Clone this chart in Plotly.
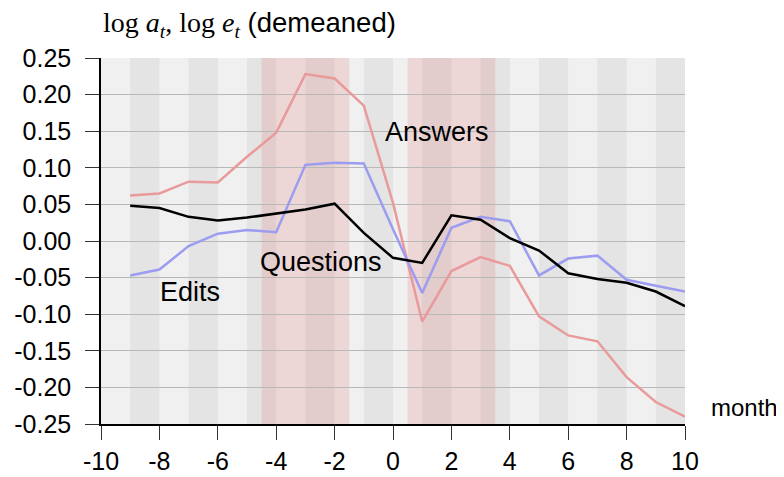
import plotly.graph_objects as go

months = list(range(-9, 11))
answers = [0.062, 0.065, 0.081, 0.080, 0.115, 0.148, 0.228, 0.222, 0.185, 0.052,
           -0.110, -0.041, -0.022, -0.034, -0.103, -0.129, -0.137, -0.186, -0.220, -0.240]
edits = [-0.047, -0.039, -0.007, 0.010, 0.015, 0.012, 0.104, 0.107, 0.106, 0.016,
         -0.071, 0.018, 0.033, 0.027, -0.047, -0.024, -0.020, -0.053, -0.061, -0.069]
questions = [0.048, 0.045, 0.033, 0.028, 0.032, 0.037, 0.043, 0.051, 0.011, -0.023,
             -0.030, 0.035, 0.029, 0.004, -0.013, -0.044, -0.052, -0.057, -0.069, -0.089]

x_tick_vals = [-10, -8, -6, -4, -2, 0, 2, 4, 6, 8, 10]
x_tick_labels = ["-10", "-8", "-6", "-4", "-2", "0", "2", "4", "6", "8", "10"]
y_tick_vals = [0.25, 0.20, 0.15, 0.10, 0.05, 0.0, -0.05, -0.10, -0.15, -0.20, -0.25]
y_tick_labels = ["0.25", "0.20", "0.15", "0.10", "0.05", "0.00", "-0.05", "-0.10",
                 "-0.15", "-0.20", "-0.25"]
shaded_periods = [(-4.5, -1.5), (0.5, 3.5)]

FONT = "Liberation Sans, Arial, sans-serif"
RED = "#e99a9a"
BLUE = "#9c9cf0"

fig = go.Figure()
fig.add_trace(go.Scatter(x=months, y=answers, mode="lines", line=dict(color=RED, width=2.5)))
fig.add_trace(go.Scatter(x=months, y=edits, mode="lines", line=dict(color=BLUE, width=2.5)))
fig.add_trace(go.Scatter(x=months, y=questions, mode="lines", line=dict(color="black", width=2.5)))

shapes = []
for m in range(-9, 10, 2):
    shapes.append(dict(type="rect", xref="x", yref="y", x0=m, x1=m + 1, y0=-0.25, y1=0.25,
                       fillcolor="#e4e4e4", line=dict(width=0), layer="below"))
for a, b in shaded_periods:
    shapes.append(dict(type="rect", xref="x", yref="y", x0=a, x1=b, y0=-0.25, y1=0.25,
                       fillcolor="rgba(220,100,100,0.19)", line=dict(width=0), layer="below"))

annotations = [
    dict(x=1.5, y=0.149, text="Answers", showarrow=False, font=dict(size=27, family=FONT, color="black")),
    dict(x=-2.47, y=-0.028, text="Questions", showarrow=False, font=dict(size=27, family=FONT, color="black")),
    dict(x=-6.94, y=-0.069, text="Edits", showarrow=False, font=dict(size=27, family=FONT, color="black")),
    dict(xref="paper", yref="paper", x=1.1025, y=0.046, xanchor="center", yanchor="middle",
         text="month", showarrow=False, font=dict(size=24, family=FONT, color="black")),
    dict(xref="paper", yref="paper", x=0.0, y=1.092, xanchor="left", yanchor="middle", showarrow=False,
         text="<span style='font-family:Liberation Serif, DejaVu Serif, serif;font-size:28px'>log <i>a</i><sub><i>t</i></sub>, log <i>e</i><sub><i>t</i></sub></span> (demeaned)",
         font=dict(size=27.5, family=FONT, color="black")),
]

fig.update_layout(
    width=776, height=469,
    margin=dict(l=93, r=99, t=50, b=53, autoexpand=False),
    paper_bgcolor="white",
    plot_bgcolor="#f0f0f0",
    showlegend=False,
    shapes=shapes,
    annotations=annotations,
    font=dict(family=FONT, size=25, color="black"),
)
fig.update_xaxes(range=[-10, 10], tickvals=x_tick_vals, ticktext=x_tick_labels,
                 showgrid=False, zeroline=False, showline=True, linecolor="black", linewidth=1.5,
                 ticks="outside", ticklen=14, tickcolor="#333", tickwidth=1.2, automargin=False,
                 tickfont=dict(size=25, family=FONT, color="black"))
fig.update_yaxes(range=[-0.25, 0.25], tickvals=y_tick_vals, ticktext=y_tick_labels,
                 showgrid=True, gridcolor="#b8b8b8", gridwidth=1, zeroline=False,
                 showline=True, linecolor="black", linewidth=1.5, automargin=False,
                 ticks="outside", ticklen=14, tickcolor="#333", tickwidth=1.2,
                 ticklabelstandoff=9,
                 tickfont=dict(size=25, family=FONT, color="black"))

fig.write_html("out.html")
